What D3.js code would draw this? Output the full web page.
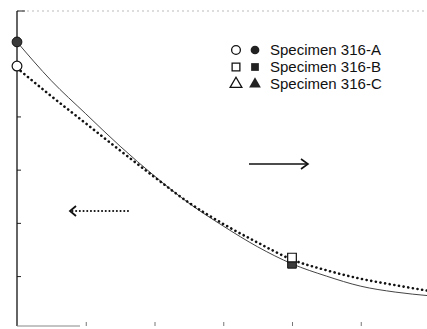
<!DOCTYPE html>
<html>
    <head>
        <meta charset="utf-8">
        <style>
            html, body {
                margin: 0px;
                padding: 0px;
                background-color: #fff;
            }

            svg text {
                font-family: "Liberation Sans", Arial, sans-serif;
                font-size: 15px;
                fill: #111;
            }

            .axis .domain {
                stroke: #111;
            }

            .axis line {
                stroke: #222;
            }

            .bottomAxis line {
                stroke: #777;
            }
        </style>
        <script src="https://cdn.jsdelivr.net/npm/d3@7/dist/d3.min.js"></script>
    </head>
    <body>
        <div id="main"></div>

        <script>
            // time / position along the specimen (x), left scale (open), right scale (filled)
            var xValues = [0, 0.5, 1, 1.5, 2, 2.5, 3, 3.5, 4, 4.5, 5, 5.5, 6];
            var leftValues = [4.91, 4.38, 3.87, 3.36, 2.86, 2.38, 1.98, 1.63, 1.31, 1.11, 0.95, 0.83, 0.72];
            var rightValues = [54.0, 46.7, 40.5, 34.4, 28.8, 23.7, 19.4, 15.5, 12.3, 10.0, 8.1, 7.0, 6.3];
            var xTicks = [1, 2, 3, 4, 5];
            var leftTicks = [1, 2, 3, 4, 5];
            var specimens = ["Specimen 316-A", "Specimen 316-B", "Specimen 316-C"];
            var markerShapes = [d3.symbolCircle, d3.symbolSquare, d3.symbolTriangle];

            var width = 427;
            var height = 329;
            var plotLeft = 17;
            var plotTop = 10;
            var plotBottom = 326;

            var svg = d3.select("#main")
                        .append("svg")
                        .attr("width", width)
                        .attr("height", height);

            var x = d3.scaleLinear().domain([0, 6]).range([plotLeft, plotLeft + 6 * 68.75]);
            var yLeft = d3.scaleLinear().domain([0, 6]).range([329.3, plotTop]);
            var yRight = d3.scaleLinear().domain([0, 60]).range([329.3, plotTop]);

            // frame: faint top border
            svg.append("line")
                .attr("x1", plotLeft).attr("x2", width)
                .attr("y1", plotTop + 1).attr("y2", plotTop + 1)
                .attr("stroke", "#aaa")
                .attr("stroke-width", 0.8)
                .attr("stroke-dasharray", "2 3");
            svg.append("line")
                .attr("x1", plotLeft).attr("x2", plotLeft + 8)
                .attr("y1", plotTop + 1).attr("y2", plotTop + 1)
                .attr("stroke", "#222");

            // left axis
            svg.append("g")
                .attr("class", "axis")
                .attr("transform", "translate(" + plotLeft + ",0)")
                .call(d3.axisRight(yLeft).tickValues(leftTicks).tickSize(4).tickSizeOuter(0).tickFormat(""))
                .select(".domain").remove();
            svg.append("line")
                .attr("x1", plotLeft).attr("x2", plotLeft)
                .attr("y1", plotTop + 1).attr("y2", plotBottom)
                .attr("stroke", "#111")
                .attr("stroke-width", 1.3);

            // bottom axis
            svg.append("g")
                .attr("class", "axis bottomAxis")
                .attr("transform", "translate(0," + plotBottom + ")")
                .call(d3.axisTop(x).tickValues(xTicks).tickSize(4).tickSizeOuter(0).tickFormat(""))
                .select(".domain").remove();
            svg.append("line")
                .attr("x1", plotLeft).attr("x2", 80)
                .attr("y1", plotBottom).attr("y2", plotBottom)
                .attr("stroke", "#888");

            var data = xValues.map(function(d, i) {
                return { x: d, l: leftValues[i], r: rightValues[i] };
            });

            var lineLeft = d3.line()
                .x(function(d) { return x(d.x); })
                .y(function(d) { return yLeft(d.l); })
                .curve(d3.curveMonotoneX);
            var lineRight = d3.line()
                .x(function(d) { return x(d.x); })
                .y(function(d) { return yRight(d.r); })
                .curve(d3.curveMonotoneX);

            svg.append("path")
                .datum(data)
                .attr("d", lineRight)
                .attr("fill", "none")
                .attr("stroke", "#444")
                .attr("stroke-width", 1);

            svg.append("path")
                .datum(data)
                .attr("d", lineLeft)
                .attr("fill", "none")
                .attr("stroke", "#111")
                .attr("stroke-width", 2.6)
                .attr("stroke-linecap", "round")
                .attr("stroke-dasharray", "0.1 4.6");

            // data markers at x = 0 (316-A) and x = 4 (316-B)
            var markers = [
                { x: 0, shape: 0 },
                { x: 4, shape: 1 }
            ];
            markers.forEach(function(m) {
                var d = data[xValues.indexOf(m.x)];
                svg.append("path")
                    .attr("d", d3.symbol().type(markerShapes[m.shape]).size(75)())
                    .attr("transform", "translate(" + x(m.x) + "," + yRight(d.r) + ")")
                    .attr("fill", "#3a3a3a")
                    .attr("stroke", "#111")
                    .attr("stroke-width", 1);
                svg.append("path")
                    .attr("d", d3.symbol().type(markerShapes[m.shape]).size(75)())
                    .attr("transform", "translate(" + x(m.x) + "," + (yLeft(d.l) - 2) + ")")
                    .attr("fill", "#fff")
                    .attr("stroke", "#111")
                    .attr("stroke-width", 1.2);
            });

            // legend
            var legend = svg.selectAll(".legend")
                .data(specimens)
                .enter()
                .append("g")
                .attr("class", "legend")
                .attr("transform", function(d, i) { return "translate(236," + (50 + i * 17) + ")"; });

            legend.append("path")
                .attr("d", function(d, i) { return d3.symbol().type(markerShapes[i]).size(60)(); })
                .attr("fill", "#fff")
                .attr("stroke", "#111")
                .attr("stroke-width", 1.3);
            legend.append("path")
                .attr("d", function(d, i) { return d3.symbol().type(markerShapes[i]).size(60)(); })
                .attr("transform", "translate(19,0)")
                .attr("fill", "#222");
            legend.append("text")
                .attr("x", 34)
                .attr("dy", "0.36em")
                .text(function(d) { return d; });

            // axis indicator arrows
            svg.append("line")
                .attr("x1", 249).attr("x2", 308)
                .attr("y1", 164).attr("y2", 164)
                .attr("stroke", "#111")
                .attr("stroke-width", 1.5);
            svg.append("path")
                .attr("d", "M301,159 L308,164 L301,169")
                .attr("fill", "none")
                .attr("stroke", "#111")
                .attr("stroke-width", 1.6);

            svg.append("line")
                .attr("x1", 128).attr("x2", 72)
                .attr("y1", 211).attr("y2", 211)
                .attr("stroke", "#111")
                .attr("stroke-width", 2)
                .attr("stroke-linecap", "round")
                .attr("stroke-dasharray", "0.1 3.6");
            svg.append("path")
                .attr("d", "M76,206 L70,211 L76,216")
                .attr("fill", "none")
                .attr("stroke", "#111")
                .attr("stroke-width", 1.8);
        </script>
    </body>
</html>
